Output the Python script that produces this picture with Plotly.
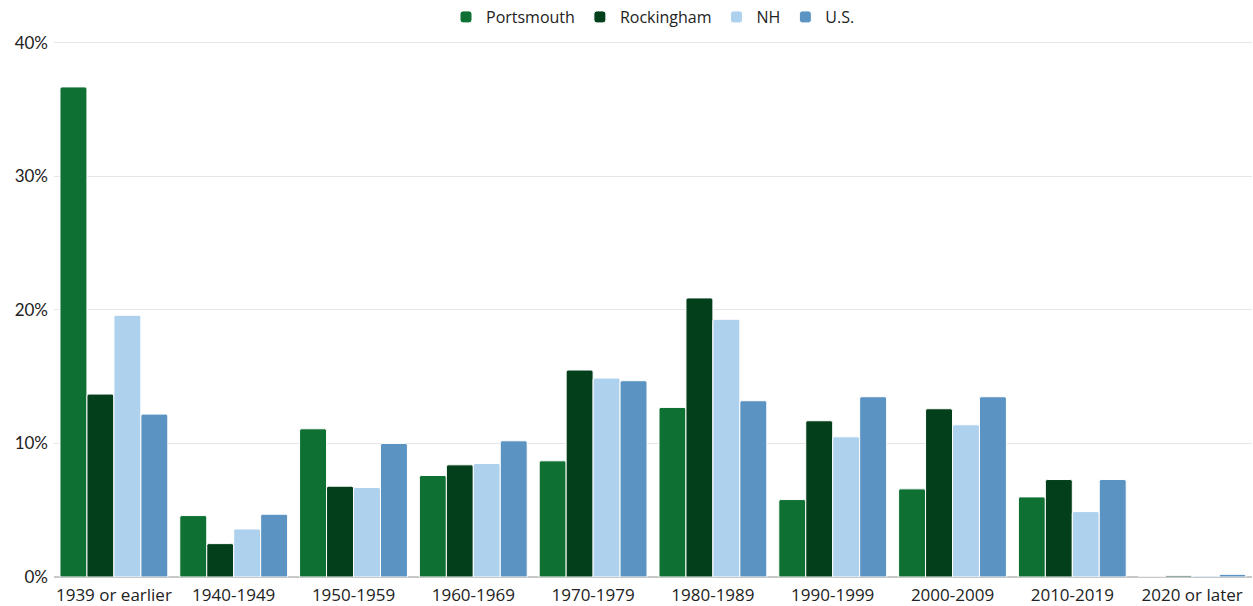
import plotly.graph_objects as go

categories = ["1939 or earlier", "1940-1949", "1950-1959", "1960-1969", "1970-1979",
              "1980-1989", "1990-1999", "2000-2009", "2010-2019", "2020 or later"]
portsmouth = [36.7, 4.6, 11.1, 7.6, 8.7, 12.7, 5.8, 6.6, 6.0, 0.0]
rockingham = [13.7, 2.5, 6.8, 8.4, 15.5, 20.9, 11.7, 12.6, 7.3, 0.1]
nh = [19.6, 3.6, 6.7, 8.5, 14.9, 19.3, 10.5, 11.4, 4.9, 0.1]
us = [12.2, 4.7, 10.0, 10.2, 14.7, 13.2, 13.5, 13.5, 7.3, 0.2]
y_ticks = [0, 10, 20, 30, 40]

series = [("Portsmouth", portsmouth, "#0e7032"),
          ("Rockingham", rockingham, "#033f1b"),
          ("NH", nh, "#aed1ee"),
          ("U.S.", us, "#5b94c2")]

fig = go.Figure()
for name, vals, color in series:
    fig.add_trace(go.Bar(x=categories, y=vals, name=name,
                         marker=dict(color=color, line=dict(color="white", width=1))))

H, B, TOP_PX = 606, 27, 43
plot_h = H - B
y_max = 40 * plot_h / (plot_h - TOP_PX)

fig.update_layout(
    width=1253, height=H,
    barmode="group", bargap=0.1, bargroupgap=0, barcornerradius=2,
    plot_bgcolor="white", paper_bgcolor="white",
    margin=dict(l=54, r=1, t=0, b=B),
    font=dict(family="Open Sans", size=16, color="#222222"),
    legend=dict(orientation="h", x=0.5, xanchor="center", y=1.0, yanchor="top",
                font=dict(size=16), itemwidth=30, traceorder="normal",
                bgcolor="rgba(0,0,0,0)"),
    showlegend=True,
)
fig.update_yaxes(range=[0, y_max], tickvals=y_ticks, ticktext=[f"{v}%" for v in y_ticks],
                 showgrid=True, gridcolor="#e6e6e6", zeroline=True,
                 zerolinecolor="#c8c8c8", zerolinewidth=2,
                 tickfont=dict(size=17, family="Lato"), ticklabelstandoff=5)
fig.update_xaxes(showline=False, tickfont=dict(size=17), ticklabelstandoff=6)

fig.write_html("out.html", config={"displayModeBar": False},
               post_script="document.body.style.margin='0';")
